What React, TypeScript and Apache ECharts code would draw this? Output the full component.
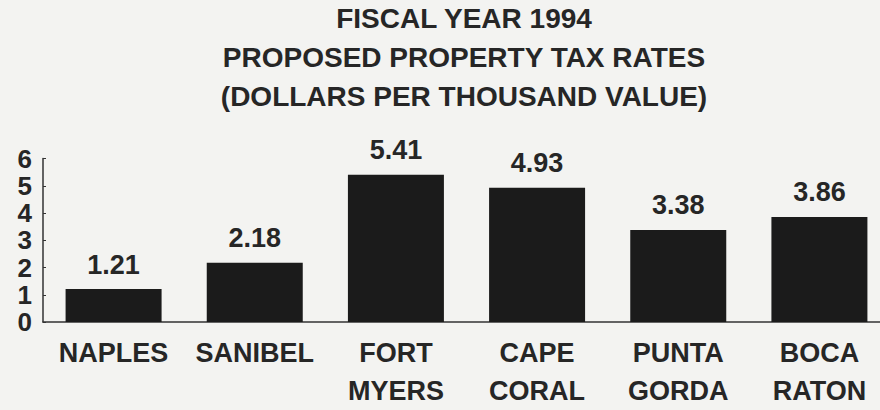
import React, { useEffect, useRef } from "react";
import * as echarts from "echarts";

const titleLines = [
  "FISCAL YEAR 1994",
  "PROPOSED PROPERTY TAX RATES",
  "(DOLLARS PER THOUSAND VALUE)",
];
const categories = [
  "NAPLES",
  "SANIBEL",
  "FORT\nMYERS",
  "CAPE\nCORAL",
  "PUNTA\nGORDA",
  "BOCA\nRATON",
];
const taxRates = [1.21, 2.18, 5.41, 4.93, 3.38, 3.86];
const yMin = 0;
const yMax = 6;
const yStep = 1;

const FONT = "'Liberation Sans', Arial, sans-serif";
const INK = "#262626";

export default function App() {
  const ref = useRef<HTMLDivElement>(null);
  useEffect(() => {
    if (!ref.current) return;
    const chart = echarts.init(ref.current, null, { renderer: "svg" });
    chart.setOption({
      animation: false,
      backgroundColor: "#f3f3f1",
      title: {
        text: titleLines.join("\n"),
        left: 464,
        top: -1,
        padding: 0,
        textAlign: "center",
        textStyle: {
          fontFamily: FONT,
          fontSize: 28,
          fontWeight: "bold",
          lineHeight: 39,
          color: INK,
          align: "center",
        },
      },
      grid: { left: 43, right: 0, top: 158.6, bottom: 87 },
      xAxis: {
        type: "category",
        data: categories,
        axisLine: { lineStyle: { color: "#333", width: 1.5 } },
        axisTick: { inside: true, length: 4, lineStyle: { color: "#333" } },
        axisLabel: {
          interval: 0,
          margin: 12,
          fontFamily: FONT,
          fontSize: 27,
          fontWeight: "bold",
          lineHeight: 38,
          color: INK,
        },
      },
      yAxis: {
        type: "value",
        min: yMin,
        max: yMax,
        interval: yStep,
        splitLine: { show: false },
        axisLine: { show: true, lineStyle: { color: "#333", width: 1.5 } },
        axisTick: { show: true, inside: true, length: 3, lineStyle: { color: "#333" } },
        axisLabel: {
          margin: 11,
          fontFamily: FONT,
          fontSize: 26,
          fontWeight: "bold",
          color: INK,
        },
      },
      series: [
        {
          type: "bar",
          data: taxRates,
          barWidth: 96,
          itemStyle: { color: "#1b1b1b" },
          label: {
            show: true,
            position: "top",
            distance: 11,
            formatter: (p: any) => p.value.toFixed(2),
            fontFamily: FONT,
            fontSize: 27,
            fontWeight: "bold",
            lineHeight: 27,
            color: INK,
          },
        },
      ],
    });
    return () => chart.dispose();
  }, []);
  return (
    <div
      style={{
        position: "absolute",
        left: 0,
        top: 0,
        width: 880,
        height: 410,
        overflow: "hidden",
        background: "#f3f3f1",
      }}
    >
      <div ref={ref} style={{ width: 890, height: 410 }} />
    </div>
  );
}
